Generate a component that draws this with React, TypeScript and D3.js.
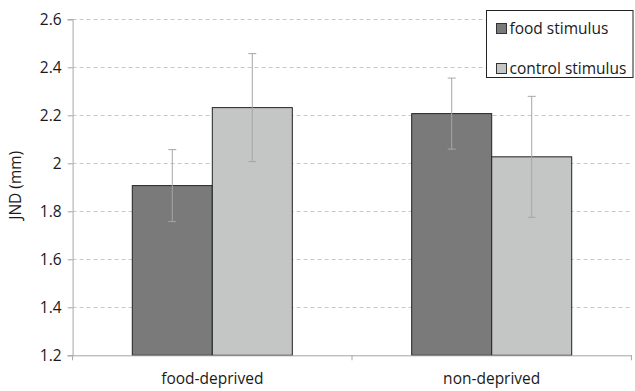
import React, { useEffect, useRef } from "react";
import * as d3 from "d3";

const groups = ["food-deprived", "non-deprived"];
const series = ["food stimulus", "control stimulus"];
const foodMeans = [1.907, 2.207];
const controlMeans = [2.232, 2.027];
const foodErr = [0.15, 0.148];
const controlErr = [0.225, 0.252];
const yTicks = [1.2, 1.4, 1.6, 1.8, 2, 2.2, 2.4, 2.6];

const colors = ["#7a7a7a", "#c4c6c5"];
const FONT = "'Open Sans', sans-serif";
const FS = "15.5px";

export default function App() {
  const ref = useRef<SVGSVGElement>(null);

  useEffect(() => {
    const width = 635;
    const height = 391;
    const margin = { top: 19.3, right: 3.6, bottom: 35.7, left: 72.6 };

    const svg = d3.select(ref.current);
    svg.selectAll("*").remove();

    const x = d3
      .scaleBand()
      .domain(groups)
      .range([margin.left, width - margin.right])
      .paddingInner(0)
      .paddingOuter(0);

    const inner = d3
      .scaleBand()
      .domain(series)
      .range([0, x.bandwidth()])
      .paddingOuter(0.746)
      .paddingInner(0);

    const y = d3
      .scaleLinear()
      .domain([1.2, 2.6])
      .range([height - margin.bottom, margin.top]);

    // gridlines
    svg
      .append("g")
      .selectAll("line")
      .data(yTicks.slice(1))
      .enter()
      .append("line")
      .attr("x1", margin.left)
      .attr("x2", width - margin.right)
      .attr("y1", (d) => Math.round(y(d)) + 0.5)
      .attr("y2", (d) => Math.round(y(d)) + 0.5)
      .style("stroke", "#c8c8c8")
      .style("stroke-dasharray", "4,3");

    // y axis
    const yAxis = svg
      .append("g")
      .attr("transform", `translate(${margin.left},0)`)
      .call(
        d3
          .axisLeft(y)
          .tickValues(yTicks)
          .tickSize(5)
          .tickPadding(6)
          .tickFormat((d) => String(d))
      );
    yAxis.select(".domain").style("stroke", "#a6a6a6");
    yAxis.selectAll(".tick line").style("stroke", "#a6a6a6");
    yAxis
      .selectAll("text")
      .style("font-family", FONT)
      .style("font-size", FS)
      .style("fill", "#1a1a1a");

    // bars
    const rows = groups.map((g, i) => ({
      group: g,
      values: [
        { key: series[0], v: foodMeans[i], e: foodErr[i] },
        { key: series[1], v: controlMeans[i], e: controlErr[i] },
      ],
    }));

    const gg = svg
      .append("g")
      .selectAll("g")
      .data(rows)
      .enter()
      .append("g")
      .attr("transform", (d) => `translate(${x(d.group)},0)`);

    gg.selectAll("rect")
      .data((d) => d.values)
      .enter()
      .append("rect")
      .attr("x", (d) => inner(d.key)!)
      .attr("y", (d) => y(d.v))
      .attr("width", inner.bandwidth())
      .attr("height", (d) => y(1.2) - y(d.v))
      .style("fill", (_, i) => colors[i])
      .style("stroke", "#222")
      .style("stroke-width", 1);

    // x axis
    const xAxis = svg
      .append("g")
      .attr("transform", `translate(0,${y(1.2)})`)
      .call(d3.axisBottom(x).tickSize(0).tickPadding(18));
    xAxis.select(".domain").style("stroke", "#a6a6a6");
    xAxis
      .selectAll("text")
      .style("font-family", FONT)
      .style("font-size", FS)
      .style("fill", "#1a1a1a");
    xAxis
      .selectAll(".bound")
      .data([margin.left, x(groups[1])!, width - margin.right])
      .enter()
      .append("line")
      .attr("x1", (d) => d)
      .attr("x2", (d) => d)
      .attr("y1", 0)
      .attr("y2", 5)
      .style("stroke", "#a6a6a6");

    // error bars
    const eb = gg
      .selectAll(".err")
      .data((d) => d.values)
      .enter()
      .append("g")
      .attr(
        "transform",
        (d) => `translate(${inner(d.key)! + inner.bandwidth() / 2},0)`
      );
    eb.append("line")
      .attr("y1", (d) => y(d.v - d.e))
      .attr("y2", (d) => y(d.v + d.e))
      .style("stroke", "#a6a6a6");
    eb.append("line")
      .attr("x1", -4)
      .attr("x2", 4)
      .attr("y1", (d) => y(d.v + d.e))
      .attr("y2", (d) => y(d.v + d.e))
      .style("stroke", "#a6a6a6");
    eb.append("line")
      .attr("x1", -4)
      .attr("x2", 4)
      .attr("y1", (d) => y(d.v - d.e))
      .attr("y2", (d) => y(d.v - d.e))
      .style("stroke", "#a6a6a6");

    // y title
    svg
      .append("text")
      .attr("transform", `translate(21,${(y(1.2) + y(2.6)) / 2 - 2}) rotate(-90)`)
      .attr("text-anchor", "middle")
      .style("font-family", FONT)
      .style("font-size", FS)
      .style("fill", "#1a1a1a")
      .text("JND (mm)");

    // legend
    const lg = svg.append("g").attr("transform", "translate(486.5,10.5)");
    lg.append("rect")
      .attr("width", 146.5)
      .attr("height", 67)
      .style("fill", "#fff")
      .style("stroke", "#222");
    const items = lg
      .selectAll(".item")
      .data(series)
      .enter()
      .append("g")
      .attr("transform", (_, i) => `translate(10,${18 + i * 40})`);
    items
      .append("rect")
      .attr("x", 0)
      .attr("y", -5)
      .attr("width", 10)
      .attr("height", 10)
      .style("fill", (_, i) => colors[i])
      .style("stroke", "#333");
    items
      .append("text")
      .attr("x", 13)
      .attr("dy", "0.35em")
      .style("font-family", FONT)
      .style("font-size", FS)
      .style("fill", "#1a1a1a")
      .text((d) => d);
  }, []);

  return (
    <svg
      ref={ref}
      width={635}
      height={391}
      style={{ position: "absolute", left: 0, top: 0, background: "#fff" }}
    />
  );
}
